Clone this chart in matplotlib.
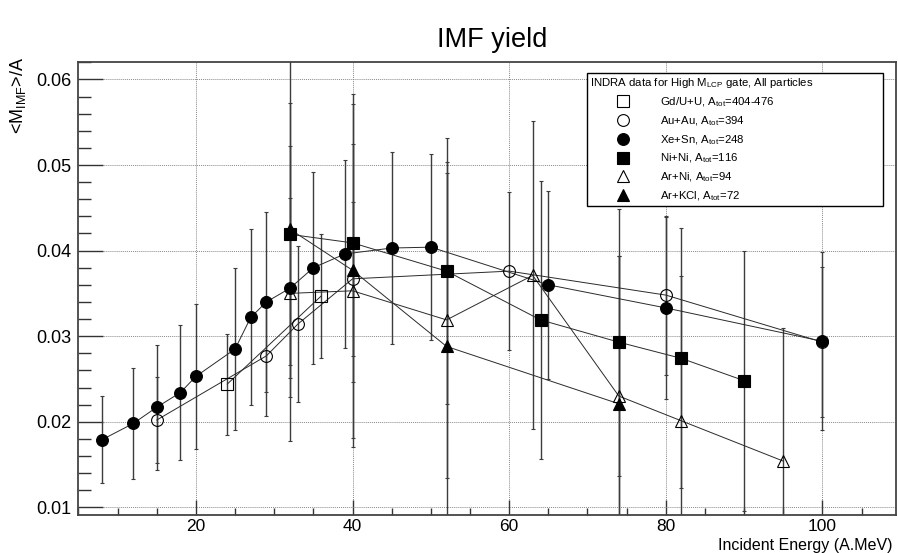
import matplotlib.pyplot as plt
from matplotlib.lines import Line2D
from matplotlib.ticker import MultipleLocator

plt.rcParams['font.family'] = ['Liberation Sans', 'DejaVu Sans']
plt.rcParams['mathtext.fontset'] = 'custom'
plt.rcParams['mathtext.rm'] = 'Liberation Sans'
plt.rcParams['mathtext.it'] = 'Liberation Sans:italic'

# energies (A.MeV), <M_IMF>/A and symmetric errors, one block per system
gdu_e = [24, 36]
gdu_y = [0.0244, 0.0347]
gdu_err = [0.0059, 0.0072]

auau_e = [15, 29, 33, 40, 60, 80, 100]
auau_y = [0.0202, 0.0277, 0.0314, 0.0367, 0.0376, 0.0348, 0.0293]
auau_err = [0.0050, 0.0070, 0.0091, 0.0090, 0.0092, 0.0093, 0.0088]

xesn_e = [8, 12, 15, 18, 20, 25, 27, 29, 32, 35, 39, 45, 50, 65, 80, 100]
xesn_y = [0.0179, 0.0198, 0.0217, 0.0234, 0.0253, 0.0285, 0.0322, 0.0340,
          0.0356, 0.0380, 0.0396, 0.0403, 0.0404, 0.0360, 0.0333, 0.0294]
xesn_err = [0.0051, 0.0065, 0.0073, 0.0079, 0.0085, 0.0095, 0.0103, 0.0105,
            0.0105, 0.0112, 0.0110, 0.0112, 0.0109, 0.0110, 0.0106, 0.0104]

nini_e = [32, 40, 52, 64, 74, 82, 90]
nini_y = [0.0419, 0.0409, 0.0376, 0.0319, 0.0293, 0.0274, 0.0248]
nini_err = [0.0153, 0.0162, 0.0155, 0.0162, 0.0156, 0.0152, 0.0152]

arni_e = [32, 40, 52, 63, 74, 82, 95]
arni_y = [0.0350, 0.0353, 0.0319, 0.0371, 0.0230, 0.0201, 0.0154]
arni_err = [0.0172, 0.0172, 0.0185, 0.0180, 0.0164, 0.0169, 0.0155]

arkcl_e = [32, 40, 52, 74]
arkcl_y = [0.0425, 0.0377, 0.0288, 0.0221]
arkcl_err = [0.0196, 0.0206, 0.0203, 0.0173]

labels = [r'Gd/U+U, A$_{\mathrm{tot}}$=404-476',
          r'Au+Au, A$_{\mathrm{tot}}$=394',
          r'Xe+Sn, A$_{\mathrm{tot}}$=248',
          r'Ni+Ni, A$_{\mathrm{tot}}$=116',
          r'Ar+Ni, A$_{\mathrm{tot}}$=94',
          r'Ar+KCl, A$_{\mathrm{tot}}$=72']

series = [
    (gdu_e, gdu_y, gdu_err, 's', 'none', 8),
    (auau_e, auau_y, auau_err, 'o', 'none', 8.5),
    (xesn_e, xesn_y, xesn_err, 'o', 'black', 8.5),
    (nini_e, nini_y, nini_err, 's', 'black', 8),
    (arni_e, arni_y, arni_err, '^', 'none', 8.5),
    (arkcl_e, arkcl_y, arkcl_err, '^', 'black', 8.5),
]

fig = plt.figure(figsize=(8.98, 5.53), dpi=100)
ax = fig.add_axes([0.0874, 0.0687, 0.9104, 0.8186])

handles = []
for e, y, err, m, fc, ms in series:
    ax.errorbar(e, y, yerr=err, fmt='none', ecolor='#3c3c3c', elinewidth=1.0,
                capsize=1.5, capthick=0.8, zorder=2)
    ax.plot(e, y, '-', color='#2a2a2a', lw=0.7, zorder=3)
    ax.plot(e, y, linestyle='none', marker=m, markersize=ms, markerfacecolor=fc,
            markeredgecolor='black', markeredgewidth=0.8, zorder=4)
    handles.append(Line2D([], [], linestyle='none', marker=m, markersize=ms,
                          markerfacecolor=fc, markeredgecolor='black',
                          markeredgewidth=0.8))

ax.set_xlim(5.0, 109.4)
ax.set_ylim(0.0091, 0.062)
ax.xaxis.set_major_locator(MultipleLocator(20))
ax.xaxis.set_minor_locator(MultipleLocator(5))
ax.yaxis.set_major_locator(MultipleLocator(0.01))
ax.yaxis.set_minor_locator(MultipleLocator(0.002))
ax.yaxis.set_major_formatter(plt.FuncFormatter(lambda v, p: '%.2f' % v))
ax.tick_params(axis='both', which='both', direction='in', colors='#333333',
               labelcolor='black', labelsize=13, top=False, right=False)
ax.tick_params(axis='x', labelsize=12.5)
ax.tick_params(axis='y', which='major', length=18, width=1.0, pad=5)
ax.tick_params(axis='y', which='minor', length=9, width=1.0)
ax.tick_params(axis='x', which='major', length=11, width=1.0, pad=3)
ax.tick_params(axis='x', which='minor', length=5, width=1.0)
ax.grid(True, which='major', linestyle=(0, (1, 1)), color='#8a8a8a', lw=0.7)
for s in ax.spines.values():
    s.set_color('#444444')
    s.set_linewidth(1.3)

ax.set_xlabel('Incident Energy (A.MeV)', loc='right', fontsize=11.5)
ax.xaxis.set_label_coords(0.9955, -0.05)
ax.set_ylabel(r'<M$_{\mathrm{IMF}}$>/A', loc='top', fontsize=13)
ax.yaxis.set_label_coords(-0.062, 1.012)

fig.text(0.548, 1 - 40 / 553, 'IMF yield', ha='center', va='center', fontsize=19.5)

leg = ax.legend(handles, labels, title=r'INDRA data for High M$_{\mathrm{LCP}}$ gate, All particles',
                loc='upper left', bbox_to_anchor=(0.6537, 0.868, 0.3296, 0.0),
                bbox_transform=fig.transFigure, mode='expand', alignment='left',
                fontsize=8.2, title_fontsize=8.2, frameon=True, fancybox=False,
                edgecolor='black', framealpha=1.0, borderpad=0.3,
                handlelength=5.8, handletextpad=0.35, labelspacing=0.45,
                borderaxespad=0.0)
leg.get_frame().set_linewidth(1.0)
leg.set_zorder(10)

fig.savefig('out.png', dpi=100)
